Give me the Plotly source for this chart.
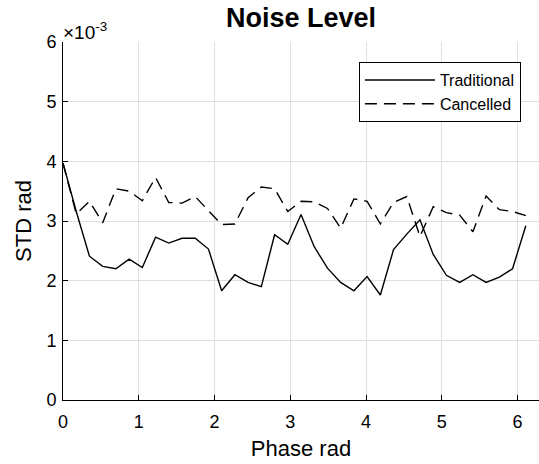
import plotly.graph_objects as go

# Phase samples (rad)
phase = [0.000, 0.175, 0.349, 0.524, 0.698, 0.873, 1.047, 1.222, 1.396, 1.571,
         1.745, 1.920, 2.094, 2.269, 2.443, 2.618, 2.793, 2.967, 3.142, 3.316,
         3.491, 3.665, 3.840, 4.014, 4.189, 4.363, 4.538, 4.712, 4.887, 5.061,
         5.236, 5.411, 5.585, 5.760, 5.934, 6.109]

# STD values in units of 1e-3 rad
traditional = [3.97, 3.16, 2.41, 2.24, 2.20, 2.36, 2.22, 2.73, 2.63, 2.71,
               2.71, 2.53, 1.83, 2.10, 1.97, 1.90, 2.77, 2.61, 3.11, 2.57,
               2.21, 1.97, 1.83, 2.07, 1.76, 2.52, 2.78, 3.02, 2.44, 2.09,
               1.97, 2.10, 1.97, 2.06, 2.20, 2.92]
cancelled = [3.97, 3.12, 3.33, 2.97, 3.54, 3.50, 3.34, 3.73, 3.31, 3.30,
             3.41, 3.18, 2.94, 2.95, 3.39, 3.57, 3.54, 3.16, 3.33, 3.32,
             3.21, 2.88, 3.37, 3.33, 2.95, 3.31, 3.41, 2.74, 3.24, 3.14,
             3.10, 2.82, 3.42, 3.19, 3.16, 3.09]

x_ticks = [0, 1, 2, 3, 4, 5, 6]
y_ticks = [0, 1, 2, 3, 4, 5, 6]

FONT = "Liberation Sans, Arial, Helvetica, sans-serif"
GRID = "#dfdfdf"

fig = go.Figure()
fig.add_trace(go.Scatter(x=phase, y=traditional, mode="lines", name="Traditional",
                         line=dict(color="black", width=1.4)))
fig.add_trace(go.Scatter(x=phase, y=cancelled, mode="lines", name="Cancelled",
                         line=dict(color="black", width=1.4, dash="12px,7px")))

fig.update_layout(
    width=539, height=464,
    margin=dict(l=63, r=0, t=42, b=64, pad=0),
    paper_bgcolor="white", plot_bgcolor="white",
    font=dict(family=FONT, color="black", size=18),
    title=dict(text="<b>Noise Level</b>", font=dict(size=27, family=FONT, color="black"),
               x=0.5, xref="paper", xanchor="center",
               y=1 - 18 / 464, yref="container", yanchor="middle"),
    xaxis=dict(range=[0, 6.2832], tickvals=x_ticks, ticktext=[str(v) for v in x_ticks],
               showgrid=True, gridcolor=GRID, gridwidth=1, zeroline=False,
               showline=True, linecolor="black", linewidth=1,
               ticks="inside", ticklen=5, tickcolor="black", tickwidth=1,
               tickfont=dict(size=18), ticklabelstandoff=5,
               title=dict(text="Phase rad", font=dict(size=22), standoff=10)),
    yaxis=dict(range=[0, 6], tickvals=y_ticks, ticktext=[str(v) for v in y_ticks],
               showgrid=True, gridcolor=GRID, gridwidth=1, zeroline=False,
               showline=True, linecolor="black", linewidth=1,
               ticks="inside", ticklen=5, tickcolor="black", tickwidth=1,
               tickfont=dict(size=18), ticklabelstandoff=2,
               title=dict(text="STD rad", font=dict(size=22), standoff=8)),
    legend=dict(x=0.962, xanchor="right", y=0.944, yanchor="top",
                bgcolor="white", bordercolor="black", borderwidth=1,
                font=dict(size=16, color="black"), itemwidth=70,
                tracegroupgap=0),
    showlegend=True,
)

fig.add_annotation(text="×10<sup>-3</sup>", xref="paper", yref="paper",
                   x=0, y=1, xanchor="left", yanchor="bottom", yshift=-3, xshift=-2,
                   showarrow=False, font=dict(size=19, family=FONT, color="black"))

fig.write_html("out.html")
